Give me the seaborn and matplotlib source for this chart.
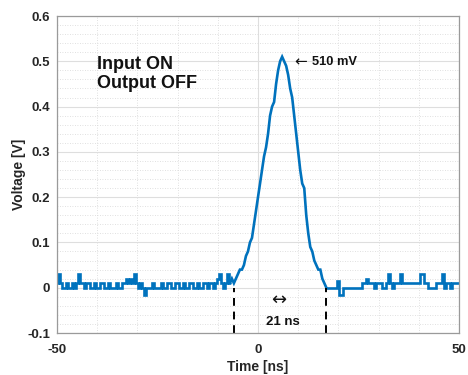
import numpy as np
import pandas as pd
import matplotlib
matplotlib.use("Agg")
import matplotlib.pyplot as plt
from matplotlib.ticker import MultipleLocator
import seaborn as sns

# ---- data: scope record sampled every 0.5 ns from -50 ns to 50 ns (V) ----
baseline_pre_v = [  # -50.0 ... -7.5 ns
    0.01, 0.03, 0.01, 0.0, 0.0, 0.01, 0.0, 0.0, 0.01, 0.0,
    0.01, 0.03, 0.01, 0.01, 0.0, 0.01, 0.01, 0.0, 0.0, 0.01,
    0.0, 0.0, 0.01, 0.01, 0.0, 0.0, 0.01, 0.0, 0.0, 0.0,
    0.01, 0.0, 0.0, 0.01, 0.01, 0.02, 0.01, 0.02, 0.01, 0.03,
    0.01, 0.0, 0.01, 0.0, -0.015, 0.0, 0.0, 0.0, 0.01, 0.0,
    0.0, 0.0, 0.01, 0.0, 0.0, 0.01, 0.01, 0.0, 0.0, 0.01,
    0.01, 0.0, 0.0, 0.01, 0.0, 0.0, 0.01, 0.01, 0.0, 0.0,
    0.01, 0.0, 0.0, 0.01, 0.01, 0.0, 0.01, 0.01, 0.0, 0.01,
    0.02, 0.03, 0.01, 0.0, 0.01, 0.03,
]
pulse_v = [  # -7.0 ... 17.0 ns
    0.01, 0.02, 0.01, 0.02, 0.03, 0.04, 0.04, 0.05, 0.07, 0.08,
    0.10, 0.11, 0.14, 0.17, 0.20, 0.23, 0.26, 0.29, 0.31, 0.34,
    0.38, 0.40, 0.41, 0.45, 0.48, 0.50, 0.51, 0.50, 0.49, 0.47,
    0.44, 0.42, 0.38, 0.34, 0.30, 0.26, 0.23, 0.22, 0.16, 0.12,
    0.09, 0.08, 0.06, 0.05, 0.04, 0.04, 0.02, 0.01, 0.0,
]
baseline_post_v = [  # 17.5 ... 50.0 ns
    0.0, 0.0, 0.0, 0.0, 0.0, 0.015, -0.015, -0.015, 0.0, 0.0,
    0.0, 0.0, 0.0, 0.0, 0.0, 0.0, 0.0, 0.01, 0.01, 0.02,
    0.01, 0.01, 0.01, 0.0, 0.01, 0.01, 0.01, 0.0, 0.0, 0.01,
    0.03, 0.01, 0.0, 0.01, 0.01, 0.01, 0.03, 0.01, 0.01, 0.01,
    0.01, 0.01, 0.01, 0.01, 0.01, 0.01, 0.03, 0.03, 0.01, 0.01,
    0.0, 0.0, 0.0, 0.0, 0.01, 0.01, 0.01, 0.03, 0.0, 0.01,
    0.01, 0.0, 0.01, 0.01, 0.01, 0.01,
]
x_ticks = [-50, 0, 50]
y_ticks = [-0.1, 0, 0.1, 0.2, 0.3, 0.4, 0.5, 0.6]
y_ticklabels = ["-0.1", "0", "0.1", "0.2", "0.3", "0.4", "0.5", "0.6"]
width_markers_ns = [-6.0, 17.0]
state_label = "Input ON\nOutput OFF"
peak_label = "510 mV"
width_label = "21 ns"

voltage_v = baseline_pre_v + pulse_v + baseline_post_v
time_ns = np.linspace(-50, 50, len(voltage_v))
df = pd.DataFrame({"t": time_ns, "v": voltage_v})

# baseline noise is drawn as quantised steps, the pulse edges as a trace
pre = df[df["t"] <= -7.0]
mid = df[(df["t"] >= -7.25) & (df["t"] <= 17.25)]
post = df[df["t"] >= 17.0]

sns.set_style("white")
plt.rcParams["font.family"] = ["Liberation Sans", "DejaVu Sans"]

fig = plt.figure(figsize=(4.68, 3.75), dpi=100)
ax = fig.add_axes([0.1218, 0.112, 0.859, 0.8453])

line_kw = dict(ax=ax, color="#0072BD", linewidth=1.9, estimator=None, sort=False)
sns.lineplot(data=pre, x="t", y="v", drawstyle="steps-mid", **line_kw)
sns.lineplot(data=mid, x="t", y="v", **line_kw)
sns.lineplot(data=post, x="t", y="v", drawstyle="steps-mid", **line_kw)
for ln in ax.lines:
    ln.set_solid_joinstyle("miter")

ax.set_xlim(-50, 50)
ax.set_ylim(-0.1, 0.6)
ax.set_xticks(x_ticks)
ax.set_yticks(y_ticks)
ax.set_xticklabels([str(v) for v in x_ticks])
ax.set_yticklabels(y_ticklabels)
ax.xaxis.set_minor_locator(MultipleLocator(10))
ax.yaxis.set_minor_locator(MultipleLocator(0.02))

ax.grid(which="major", color="#dedede", linewidth=0.8, linestyle="-")
ax.grid(which="minor", color="#d6d6d6", linewidth=0.6, linestyle=(0, (1, 2)))
ax.set_axisbelow(True)

for s in ax.spines.values():
    s.set_color("#9a9a9a")
    s.set_linewidth(0.9)
ax.tick_params(axis="both", which="major", direction="in", length=3,
               color="#777777", labelsize=9.5, labelcolor="#262626")
ax.tick_params(axis="x", which="major", pad=8)
ax.tick_params(axis="y", which="major", pad=5)
ax.tick_params(axis="both", which="minor", length=0)
for lab in ax.get_xticklabels() + ax.get_yticklabels():
    lab.set_fontweight("bold")

ax.set_xlabel("Time [ns]", fontsize=10, fontweight="bold", color="#262626", labelpad=3)
ax.set_ylabel("Voltage [V]", fontsize=10, fontweight="bold", color="#262626", labelpad=1)

ax.vlines(width_markers_ns, -0.1, 0.0, colors="black", linestyles=(0, (4, 3)),
          linewidth=1.4)

ax.text(-40, 0.472, state_label, fontsize=13, fontweight="bold",
        va="center", ha="left", linespacing=1.15, color="#111111")
ax.text(9.0, 0.499, "\u2190", fontsize=11, va="center", ha="left",
        color="#111111", family=["DejaVu Sans"])
ax.text(13.5, 0.499, peak_label, fontsize=9.3, fontweight="bold",
        va="center", ha="left", color="#111111")
ax.text(5.2, -0.028, "\u2194", fontsize=13, va="center", ha="center",
        color="#111111", family=["DejaVu Sans"])
ax.text(6.3, -0.076, width_label, fontsize=9.5, fontweight="bold",
        va="center", ha="center", color="#111111")

fig.savefig("out.png", dpi=100)
